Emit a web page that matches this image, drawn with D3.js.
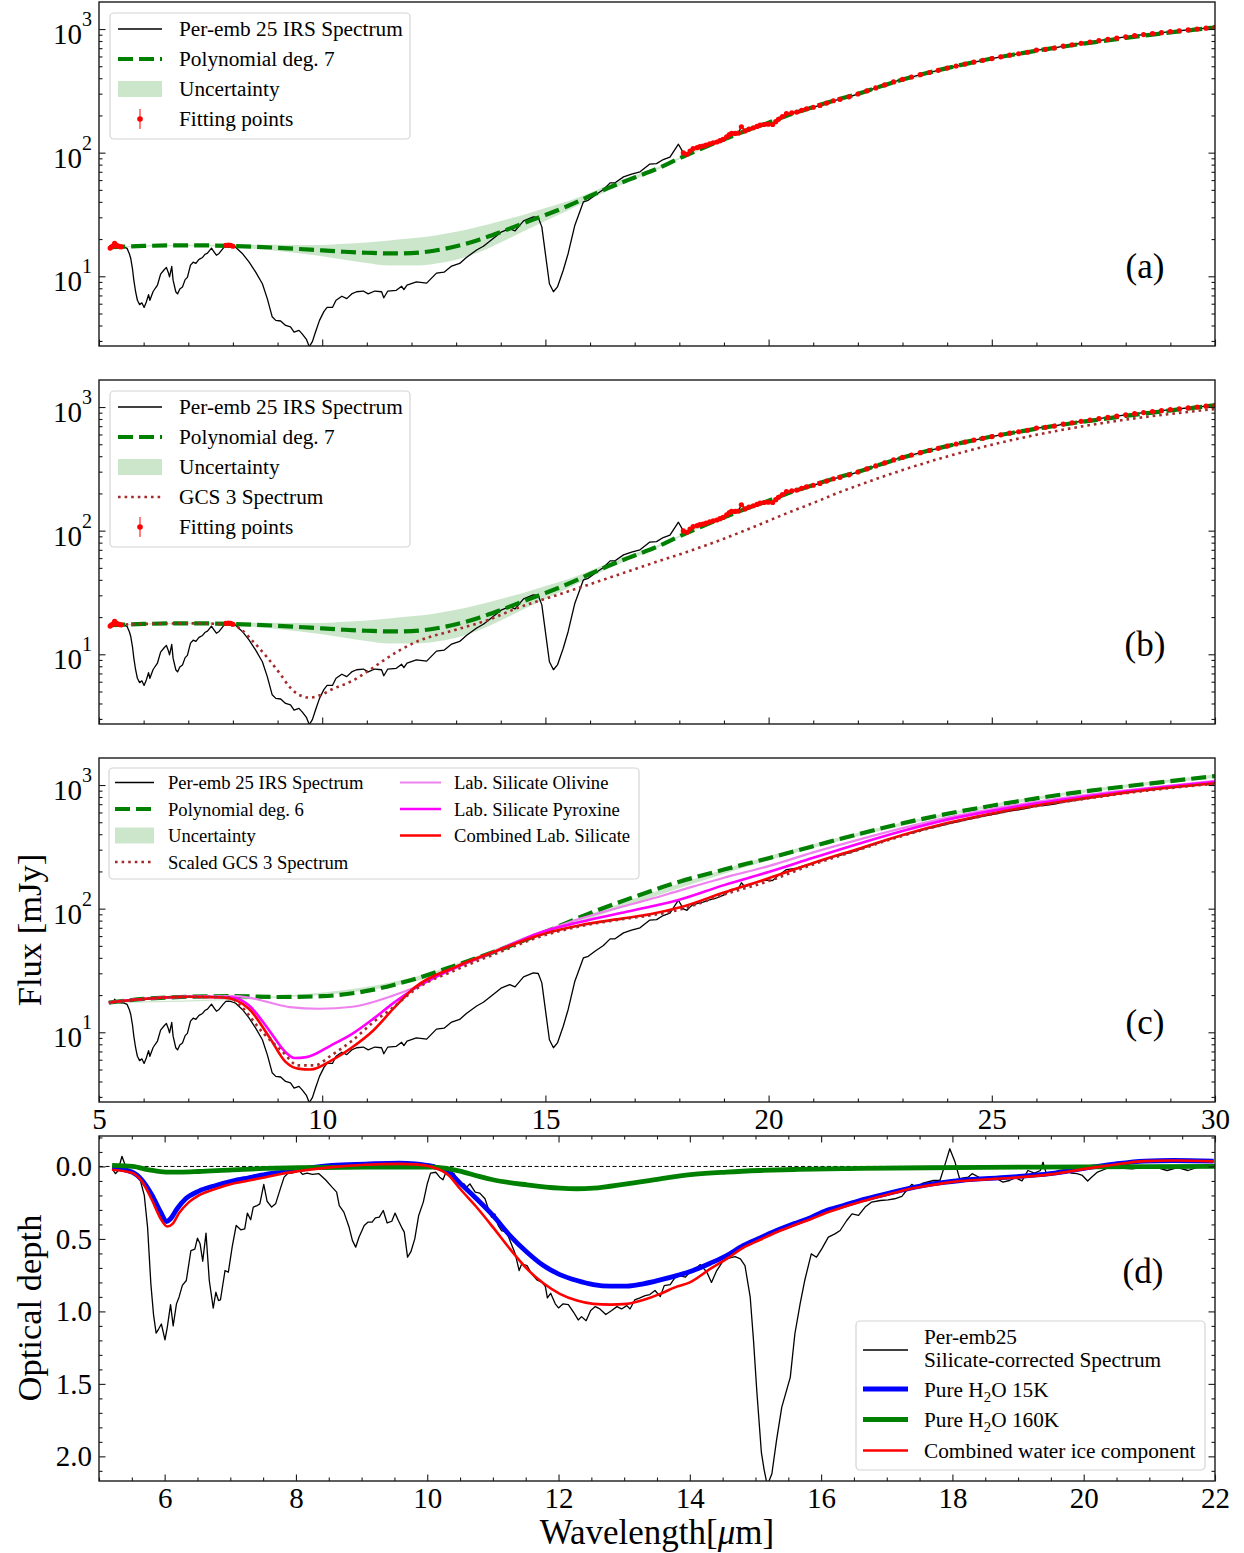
<!DOCTYPE html>
<html>
<head>
<meta charset="utf-8">
<script src="https://cdn.jsdelivr.net/npm/d3@7"></script>
<style>
  body { margin: 0; background: #fff; }
  svg { font-family: "Liberation Serif", "Times New Roman", serif; }
</style>
</head>
<body>
<svg id="fig" width="1244" height="1553"></svg>
<script>
// ---- data (wavelength in micron) ----
const irsSpectrum = [[5.25,16.9],[5.28,17.3],[5.32,17.6],[5.35,18.5],[5.38,17.9],[5.42,17.6],[5.46,17.4],[5.5,17.3],[5.56,17.2],[5.63,16.8],[5.68,15.2],[5.71,14.0],[5.75,11.5],[5.78,9.3],[5.82,7.5],[5.86,6.4],[5.91,5.9],[5.96,6.1],[6.01,5.6],[6.06,6.2],[6.11,7.1],[6.14,6.4],[6.21,7.5],[6.26,8.0],[6.31,8.5],[6.38,10.4],[6.46,11.3],[6.51,11.8],[6.55,10.8],[6.58,9.9],[6.63,12.0],[6.66,9.3],[6.72,7.5],[6.76,7.2],[6.81,7.9],[6.87,8.2],[6.93,9.4],[6.98,9.8],[7.05,12.3],[7.11,13.0],[7.17,12.7],[7.24,13.7],[7.32,14.2],[7.37,15.0],[7.43,15.4],[7.52,16.9],[7.58,15.7],[7.63,14.8],[7.69,15.3],[7.78,16.8],[7.84,17.8],[7.9,17.9],[7.95,17.8],[8.0,17.5],[8.06,17.2],[8.21,15.3],[8.36,13.1],[8.51,10.8],[8.66,8.7],[8.77,6.6],[8.88,4.7],[8.96,4.4],[9.07,4.35],[9.18,4.0],[9.29,3.9],[9.37,3.54],[9.48,3.65],[9.56,3.39],[9.65,3.07],[9.71,2.7],[9.78,2.96],[9.85,3.54],[9.94,4.4],[10.04,5.2],[10.11,5.6],[10.23,5.6],[10.31,6.4],[10.44,6.9],[10.55,6.6],[10.66,7.2],[10.77,7.5],[10.92,7.6],[11.03,7.2],[11.18,7.6],[11.33,7.5],[11.38,6.7],[11.47,7.6],[11.66,7.7],[11.78,8.3],[11.83,7.8],[11.9,8.5],[12.11,9.0],[12.34,8.8],[12.56,10.6],[12.73,10.8],[12.9,12.1],[13.08,12.7],[13.23,14.2],[13.46,16.3],[13.61,17.5],[13.76,19.3],[14.02,22.9],[14.2,24.3],[14.32,23.3],[14.51,28.1],[14.73,30.2],[14.84,29.9],[14.92,25.1],[14.99,16.2],[15.09,8.7],[15.18,7.5],[15.27,8.2],[15.4,11.2],[15.51,15.3],[15.66,25.9],[15.85,39.9],[15.96,41.2],[16.11,45.3],[16.3,50.3],[16.45,57.0],[16.56,57.0],[16.75,63.7],[16.93,67],[17.12,70],[17.34,80.8],[17.49,81.5],[17.64,88],[17.79,92],[17.98,117],[18.09,99.5],[18.17,97],[18.24,103],[18.31,108],[18.4,110],[18.46,112],[18.53,113],[18.6,115],[18.68,118],[18.76,120],[18.84,122],[18.91,125],[18.98,128],[19.06,134],[19.12,140],[19.17,143],[19.25,143],[19.32,144],[19.39,162],[19.47,150],[19.56,155],[19.66,159],[19.74,163],[19.81,167],[19.9,169],[19.99,170],[20.09,169],[20.16,178],[20.22,186],[20.31,196],[20.4,207],[20.52,210],[20.63,213],[20.74,220],[20.85,226],[21.0,233],[21.15,241],[21.3,252],[21.45,263],[21.6,270],[21.8,283],[22.0,298],[22.2,316],[22.4,334],[22.6,353],[22.8,373],[23.0,391],[23.2,409],[23.4,427],[23.6,445],[23.8,463],[24.0,483],[24.2,502],[24.4,521],[24.6,540],[24.8,558],[25.0,577],[25.2,596],[25.4,614],[25.6,631],[25.8,649],[26.0,676],[26.2,685],[26.4,701],[26.6,728],[26.8,746],[27.0,766],[27.2,785],[27.4,805],[27.6,824],[27.8,843],[28.0,865],[28.2,883],[28.4,902],[28.6,918],[28.8,935],[29.0,953],[29.2,968],[29.4,984],[29.6,1000],[29.8,1016],[30.0,1030]];

const fitRanges = [[5.2, 5.55], [7.8, 8.05], [18.05, 30.1]];

const poly7 = [[5.25,17.2],[6,17.6],[7,17.8],[8,17.6],[9,17.0],[10,16.2],[10.5,15.8],[11,15.5],[11.5,15.3],[12,15.4],[12.5,16.1],[13,17.5],[13.5,19.7],[14,22.8],[14.5,26.8],[15,31.3],[15.5,37],[16,44.6],[16.5,53.5],[17,63],[17.5,74],[18,90],[18.5,108],[19,128],[19.5,151],[20,175],[20.5,204],[21,234],[21.5,266],[22,299],[22.5,343],[23,390],[23.5,436],[24,483],[24.5,530],[25,577],[25.5,622],[26,667],[26.5,712],[27,757],[27.5,800],[28,848],[28.5,893],[29,938],[29.5,984],[30,1032]];

const poly7Band = [[5.25,17.0,17.4],[7,17.6,18.0],[8,17.2,18.0],[9,16.0,18.0],[10,14.5,17.9],[10.5,13.6,18.3],[11,12.8,18.8],[11.5,12.2,19.5],[12,12.2,20.3],[12.5,12.6,21.3],[13,13.6,22.9],[13.5,15.6,25.2],[14,18.8,28.0],[14.5,23.0,31.3],[15,28.0,35.6],[15.5,34.0,40.4],[16,41.8,47.5],[16.5,51.0,56.3],[17,61,65.5],[17.5,72.5,76],[18,88.5,91.5],[19,126,130],[20,172,178],[22,294,304],[25,570,584],[30,1020,1044]];

const gcs3 = [[5.3,17.3],[6,17.6],[7,17.8],[7.7,17.6],[8.0,17.2],[8.16,16.1],[8.46,12.6],[8.76,9.5],[9.05,7.0],[9.28,5.4],[9.5,4.66],[9.73,4.46],[9.95,4.66],[10.25,5.27],[10.62,5.97],[11.0,7.2],[11.37,8.9],[11.74,10.8],[12.15,12.8],[12.94,15.6],[13.69,18.8],[14.43,24.1],[15.18,29.5],[15.93,36.2],[16.67,44.5],[17.42,54.9],[18.17,67.3],[18.91,83.7],[19.66,107],[20.4,138],[21.15,176],[21.52,200],[22,232],[23,309],[24,398],[25,495],[26,596],[27,695],[28,791],[29,879],[30,964]];

const poly6 = [[5.22,17.4],[6,18.6],[6.5,19.1],[7,19.4],[8,19.6],[9,19.3],[10,19.6],[11,21.6],[12,26.5],[13,34.9],[14,46.8],[15,64.9],[16,92],[17,125],[18,165],[19,207],[20,256],[21,320],[22,400],[23,490],[24,585],[25,680],[26,780],[27,880],[28,975],[29,1075],[30,1180]];

const poly6Band = [[5.22,17.2,17.6],[9,19.0,19.6],[12,25.4,27.6],[15,62,68],[20,246,266],[25,660,700],[30,1145,1215]];

const olivine = [[5.22,17.4],[6,18.6],[7,19.4],[8,19.6],[8.35,19.1],[8.8,17.5],[9.28,16.0],[9.93,15.5],[10.68,16.1],[11.6,19.9],[12.07,23.0],[13,34],[13.93,46],[14.86,63],[15.78,83],[16.71,103.5],[17.34,119],[18,140],[19,178],[20,221],[21,285],[22,360],[23,448],[24,545],[25,640],[26,730],[27,820],[28,905],[29,990],[30,1080]];

const pyroxene = [[5.22,17.4],[6,18.6],[7,19.4],[7.98,19.1],[8.35,16.6],[8.81,10.4],[9.18,6.9],[9.37,6.2],[9.65,6.3],[10.2,7.85],[10.68,9.75],[11.15,12.9],[11.6,17.3],[12.07,22.6],[13,33.4],[13.93,46],[14.86,63.7],[15.78,78],[16.71,92.5],[17.34,103.5],[18,118],[19,155],[20,198],[21,258],[22,334],[23,425],[24,525],[25,618],[26,710],[27,800],[28,888],[29,975],[30,1060]];

const combinedSil = [[5.22,17.4],[6,18.6],[7,19.4],[7.79,19.1],[8.35,15.6],[8.81,9.2],[9.18,5.76],[9.46,5.08],[9.74,5.0],[10.2,5.9],[10.68,7.6],[11.15,10.4],[11.6,15.6],[12.07,23],[13,34],[13.93,46],[14.86,61],[15.78,73.5],[16.71,83],[17.34,90],[18,102],[19,135],[20,176],[21,234],[22,304],[23,395],[24,492],[25,589],[26,684],[27,774],[28,868],[29,955],[30,1035]];

const gcs3Scaled = [[5.22,17.4],[7,19.4],[7.9,19.2],[8.16,16.5],[8.69,9.75],[9.09,7.1],[9.46,5.4],[9.83,5.4],[10.2,6.5],[10.68,8.6],[11.15,12.1],[11.6,16.0],[12.07,22],[13,32],[13.93,43.8],[14.86,59],[15.78,72],[16.71,82],[17.34,88],[18,98],[19,130],[20,167],[21,228],[22,298],[23,388],[24,485],[25,580],[26,675],[27,765],[28,858],[29,945],[30,1025]];

const tauSpectrum = [[5.2,0.016],[5.25,0.05],[5.29,0.03],[5.35,-0.07],[5.4,-0.007],[5.46,0.04],[5.56,0.05],[5.63,0.097],[5.69,0.2],[5.74,0.42],[5.79,0.81],[5.83,1.02],[5.87,1.15],[5.91,1.12],[5.95,1.087],[6.005,1.197],[6.04,1.11],[6.09,0.953],[6.13,1.10],[6.18,0.948],[6.22,0.90],[6.27,0.82],[6.33,0.787],[6.40,0.58],[6.46,0.57],[6.50,0.495],[6.54,0.534],[6.58,0.654],[6.63,0.46],[6.68,0.787],[6.74,0.978],[6.78,0.868],[6.82,0.925],[6.85,0.921],[6.92,0.718],[6.97,0.73],[7.03,0.552],[7.09,0.407],[7.16,0.437],[7.22,0.43],[7.26,0.322],[7.31,0.368],[7.35,0.28],[7.41,0.27],[7.45,0.258],[7.51,0.124],[7.56,0.24],[7.63,0.28],[7.69,0.258],[7.77,0.143],[7.82,0.074],[7.87,0.05],[7.95,0.044],[8.05,0.028],[8.10,0.055],[8.17,0.046],[8.25,0.055],[8.35,0.05],[8.45,0.092],[8.55,0.143],[8.62,0.177],[8.66,0.27],[8.73,0.315],[8.81,0.42],[8.86,0.51],[8.91,0.557],[8.96,0.488],[9.04,0.407],[9.10,0.384],[9.16,0.384],[9.21,0.355],[9.27,0.35],[9.33,0.304],[9.39,0.39],[9.46,0.378],[9.51,0.322],[9.56,0.373],[9.61,0.42],[9.65,0.453],[9.70,0.626],[9.75,0.59],[9.81,0.5],[9.87,0.338],[9.94,0.246],[10.0,0.12],[10.05,0.046],[10.13,0.04],[10.19,0.074],[10.24,0.092],[10.28,0.046],[10.36,0.04],[10.41,0.05],[10.48,0.115],[10.56,0.12],[10.6,0.143],[10.65,0.12],[10.73,0.177],[10.80,0.184],[10.88,0.223],[10.93,0.292],[10.98,0.35],[11.03,0.327],[11.08,0.407],[11.13,0.442],[11.21,0.453],[11.26,0.511],[11.34,0.603],[11.37,0.66],[11.40,0.718],[11.44,0.672],[11.52,0.684],[11.59,0.741],[11.67,0.783],[11.75,0.80],[11.80,0.829],[11.83,0.907],[11.88,0.875],[11.95,0.948],[12.00,0.976],[12.07,0.948],[12.15,0.953],[12.23,1.006],[12.30,1.059],[12.35,1.036],[12.42,1.064],[12.49,0.994],[12.56,0.967],[12.63,0.983],[12.72,1.022],[12.81,0.994],[12.89,0.967],[12.96,0.983],[13.04,0.96],[13.09,0.983],[13.16,0.921],[13.24,0.907],[13.32,0.891],[13.39,0.884],[13.47,0.856],[13.55,0.898],[13.61,0.822],[13.70,0.815],[13.78,0.764],[13.85,0.753],[13.93,0.764],[14.0,0.73],[14.08,0.707],[14.16,0.677],[14.26,0.73],[14.33,0.80],[14.41,0.718],[14.51,0.649],[14.61,0.631],[14.69,0.622],[14.77,0.638],[14.84,0.684],[14.92,0.902],[14.97,1.20],[15.02,1.547],[15.09,1.973],[15.13,2.088],[15.18,2.2],[15.25,2.12],[15.32,1.892],[15.40,1.662],[15.53,1.455],[15.60,1.156],[15.68,0.948],[15.75,0.787],[15.85,0.603],[15.93,0.626],[16.01,0.569],[16.11,0.488],[16.21,0.465],[16.29,0.442],[16.39,0.373],[16.47,0.327],[16.57,0.338],[16.67,0.28],[16.77,0.246],[16.90,0.235],[17.02,0.23],[17.12,0.223],[17.23,0.207],[17.30,0.166],[17.38,0.124],[17.45,0.143],[17.55,0.115],[17.71,0.097],[17.81,0.097],[17.89,-0.018],[17.96,-0.122],[18.04,-0.03],[18.11,0.085],[18.24,0.074],[18.30,0.05],[18.42,0.078],[18.55,0.085],[18.65,0.078],[18.77,0.108],[18.87,0.097],[18.96,0.078],[19.06,0.10],[19.15,0.028],[19.25,0.046],[19.34,0.028],[19.38,-0.03],[19.43,0.05],[19.52,0.046],[19.62,0.028],[19.71,0.023],[19.81,0.046],[19.90,0.05],[19.98,0.062],[20.06,0.10],[20.12,0.074],[20.21,0.039],[20.34,0.016],[20.40,-0.018],[20.49,0.009],[20.74,0.016],[20.93,0.005],[21.12,0.009],[21.27,0.028],[21.43,0.009],[21.59,0.028],[21.74,0.005],[21.98,-0.007]];

const h2o15K = [[5.2,0.009],[5.51,0.04],[5.66,0.097],[5.81,0.2],[5.94,0.315],[6.03,0.38],[6.09,0.361],[6.19,0.292],[6.32,0.223],[6.52,0.17],[6.78,0.131],[7.03,0.101],[7.28,0.078],[7.54,0.055],[7.79,0.039],[8.05,0.021],[8.55,-0.007],[9.06,-0.016],[9.57,-0.023],[9.82,-0.018],[10.08,0],[10.33,0.04],[10.5,0.115],[10.75,0.223],[11.0,0.338],[11.26,0.477],[11.52,0.592],[11.77,0.684],[12.02,0.746],[12.28,0.787],[12.53,0.815],[12.79,0.826],[13.04,0.826],[13.29,0.81],[13.55,0.783],[13.80,0.753],[14.05,0.718],[14.31,0.668],[14.56,0.615],[14.81,0.546],[15.07,0.493],[15.32,0.442],[15.58,0.396],[15.83,0.355],[16.08,0.304],[16.34,0.27],[16.59,0.235],[16.85,0.205],[17.10,0.177],[17.36,0.15],[17.61,0.127],[17.87,0.11],[18.12,0.097],[18.87,0.074],[19.49,0.05],[20.12,0.005],[20.43,-0.014],[20.93,-0.037],[21.37,-0.041],[21.98,-0.037]];

const h2o160K = [[5.2,-0.007],[5.51,0],[5.76,0.023],[6.02,0.039],[6.27,0.039],[6.52,0.035],[7.03,0.023],[7.54,0.014],[8.05,0.009],[9.06,0.005],[10.08,0.005],[10.33,0.016],[10.5,0.032],[10.79,0.069],[11.0,0.092],[11.52,0.127],[12.02,0.15],[12.28,0.154],[12.53,0.15],[13.04,0.12],[13.55,0.085],[14.05,0.055],[14.56,0.039],[15.07,0.028],[15.58,0.021],[16.59,0.014],[17.61,0.009],[18.5,0.006],[20,0.003],[22,0.0]];

const h2oCombined = [[5.2,0.023],[5.51,0.046],[5.66,0.108],[5.81,0.235],[5.94,0.361],[6.04,0.414],[6.12,0.396],[6.22,0.322],[6.37,0.246],[6.52,0.2],[6.78,0.154],[7.03,0.12],[7.28,0.097],[7.54,0.074],[7.79,0.05],[8.05,0.032],[8.55,0.005],[9.06,-0.012],[9.57,-0.018],[9.82,-0.014],[10.08,0.005],[10.33,0.062],[10.5,0.154],[10.75,0.28],[11.0,0.419],[11.26,0.569],[11.52,0.707],[11.77,0.806],[12.02,0.879],[12.28,0.925],[12.53,0.948],[12.79,0.953],[13.04,0.948],[13.29,0.921],[13.55,0.879],[13.80,0.829],[14.0,0.80],[14.31,0.707],[14.56,0.638],[14.81,0.562],[15.07,0.506],[15.32,0.454],[15.58,0.407],[15.83,0.366],[16.08,0.32],[16.34,0.28],[16.59,0.246],[16.85,0.212],[17.10,0.184],[17.36,0.154],[17.61,0.134],[17.87,0.115],[18.12,0.101],[18.87,0.08],[19.49,0.055],[20.12,0.01],[20.43,-0.01],[20.93,-0.037],[21.37,-0.041],[21.98,-0.035]];

const fluxMajor = [10, 100, 1000];
const fluxMinor = [3,4,5,6,7,8,9,20,30,40,50,60,70,80,90,200,300,400,500,600,700,800,900];
const waveMajor = [5, 10, 15, 20, 25, 30];
const tauXMajor = [6, 8, 10, 12, 14, 16, 18, 20, 22];
const tauYMajor = [0, 0.5, 1.0, 1.5, 2.0];
const panelTags = ['(a)', '(b)', '(c)', '(d)'];

// ---- layout ----
const left = 99, right = 1215;
const panels = [{top: 2, bottom: 346}, {top: 380, bottom: 724}, {top: 758, bottom: 1102}, {top: 1136, bottom: 1481}];
const ink = '#1a1a1a';
const green = '#008000', bandFill = 'rgba(0,128,0,0.2)';
const tickFont = 29;

const svg = d3.select('#fig');
const x = d3.scaleLinear().domain([5, 30]).range([left, right]);
const xd = d3.scaleLinear().domain([5, 22]).range([left, right]);

function clipFor(i, p) {
  svg.append('clipPath').attr('id', 'clip' + i).append('rect')
    .attr('x', left).attr('y', p.top).attr('width', right - left).attr('height', p.bottom - p.top);
  return svg.append('g').attr('clip-path', `url(#clip${i})`);
}

function styleAxis(g) {
  g.select('.domain').remove();
  g.selectAll('line').attr('stroke', ink).attr('stroke-width', 1.1);
  g.selectAll('text').attr('font-family', '"Liberation Serif", serif').attr('font-size', tickFont).attr('fill', '#000');
  return g;
}

function frame(p) {
  svg.append('rect').attr('x', left).attr('y', p.top).attr('width', right - left).attr('height', p.bottom - p.top)
    .attr('fill', 'none').attr('stroke', ink).attr('stroke-width', 1.4);
}

function addAxes(p, xs, ys, xMaj, xMin, yMaj, yMin, xLabels, topTicks, yFormat) {
  styleAxis(svg.append('g').attr('transform', `translate(0,${p.bottom})`)
    .call(d3.axisBottom(xs).tickValues(xMaj).tickSize(-6.5).tickPadding(6).tickFormat(xLabels ? d3.format('d') : '')));
  styleAxis(svg.append('g').attr('transform', `translate(0,${p.bottom})`)
    .call(d3.axisBottom(xs).tickValues(xMin).tickSize(-3.5).tickFormat('')));
  if (topTicks) {
    styleAxis(svg.append('g').attr('transform', `translate(0,${p.top})`)
      .call(d3.axisTop(xs).tickValues(xMaj).tickSize(-6.5).tickFormat('')));
    styleAxis(svg.append('g').attr('transform', `translate(0,${p.top})`)
      .call(d3.axisTop(xs).tickValues(xMin).tickSize(-3.5).tickFormat('')));
  }
  [[d3.axisLeft, left], [d3.axisRight, right]].forEach(([ax, pos]) => {
    styleAxis(svg.append('g').attr('transform', `translate(${pos},0)`)
      .call(ax(ys).tickValues(yMaj).tickSize(-6.5).tickPadding(7)
        .tickFormat(pos === left && yFormat ? yFormat : '')));
    styleAxis(svg.append('g').attr('transform', `translate(${pos},0)`)
      .call(ax(ys).tickValues(yMin).tickSize(-3.5).tickFormat('')));
  });
}

const line = (xs, ys, curve) => d3.line().x(d => xs(d[0])).y(d => ys(d[1])).curve(curve || d3.curveLinear);

// legend helper
function legend(box, rows, fs) {
  const g = svg.append('g');
  g.append('rect').attr('x', box.x).attr('y', box.y).attr('width', box.w).attr('height', box.h)
    .attr('rx', 4).attr('fill', 'white').attr('fill-opacity', 0.85).attr('stroke', '#d4d4d4').attr('stroke-width', 1.2);
  rows.forEach(r => {
    const s = r.style;
    if (s.type === 'line') {
      g.append('line').attr('x1', r.h0).attr('x2', r.h1).attr('y1', r.y).attr('y2', r.y)
        .attr('stroke', s.color).attr('stroke-width', s.width).attr('stroke-dasharray', s.dash || null);
    } else if (s.type === 'band') {
      g.append('rect').attr('x', r.h0).attr('y', r.y - 8).attr('width', r.h1 - r.h0).attr('height', 16).attr('fill', bandFill);
    } else if (s.type === 'err') {
      const cx = (r.h0 + r.h1) / 2;
      g.append('line').attr('x1', cx).attr('x2', cx).attr('y1', r.y - 10).attr('y2', r.y + 10).attr('stroke', 'red').attr('stroke-width', 1);
      g.append('circle').attr('cx', cx).attr('cy', r.y).attr('r', 2.8).attr('fill', 'red');
    }
    const lines = Array.isArray(r.label[0]) ? r.label : [r.label];
    const lh = r.lh || 0;
    lines.forEach((segs, k) => {
      const t = g.append('text').attr('x', r.tx).attr('y', r.ty + k * lh).attr('font-size', fs);
      segs.forEach(sg => {
        if (sg.sub) t.append('tspan').attr('font-size', fs * 0.7).attr('dy', 5).text(sg.t);
        else t.append('tspan').attr('dy', sg.after ? -5 : null).text(sg.t);
      });
    });
  });
}

const styles = {
  spec: {type: 'line', color: '#000', width: 1.3},
  poly: {type: 'line', color: green, width: 4.2, dash: '15,6'},
  band: {type: 'band'},
  gcs: {type: 'line', color: '#a52a2a', width: 2.6, dash: '2.6,4'},
  fit: {type: 'err'},
  oliv: {type: 'line', color: '#ee82ee', width: 2.2},
  pyro: {type: 'line', color: '#ff00ff', width: 2.6},
  comb: {type: 'line', color: '#ff0000', width: 2.6},
  h15: {type: 'line', color: '#0000ff', width: 4.8},
  h160: {type: 'line', color: green, width: 4.8},
  hcomb: {type: 'line', color: '#ff0000', width: 2.6}
};

// ---- panels a, b, c : flux ----
const fitPoints = irsSpectrum.filter(d => fitRanges.some(r => d[0] >= r[0] && d[0] <= r[1]));
const smooth = d3.curveMonotoneX;

panels.slice(0, 3).forEach((p, i) => {
  const y = d3.scaleLog().domain([2.73, 1654]).range([p.bottom, p.top]);
  const g = clipFor(i, p);
  const band = i < 2 ? poly7Band : poly6Band;
  g.append('path').datum(band).attr('fill', bandFill)
    .attr('d', d3.area().x(d => x(d[0])).y0(d => y(d[1])).y1(d => y(d[2])).curve(smooth));
  g.append('path').datum(irsSpectrum).attr('fill', 'none').attr('stroke', '#000').attr('stroke-width', 1.3)
    .attr('stroke-linejoin', 'round').attr('d', line(x, y));
  g.append('path').datum(i < 2 ? poly7 : poly6).attr('fill', 'none').attr('stroke', green).attr('stroke-width', 4.2)
    .attr('stroke-dasharray', '15,6').attr('d', line(x, y, smooth));
  if (i === 1) {
    g.append('path').datum(gcs3).attr('fill', 'none').attr('stroke', '#a52a2a').attr('stroke-width', 2.6)
      .attr('stroke-dasharray', '2.6,4').attr('d', line(x, y, smooth));
  }
  if (i < 2) {
    g.selectAll('circle.fit').data(fitPoints).enter().append('circle')
      .attr('cx', d => x(d[0])).attr('cy', d => y(d[1])).attr('r', 2.6).attr('fill', 'red');
  } else {
    [[olivine, styles.oliv], [pyroxene, styles.pyro], [combinedSil, styles.comb]].forEach(([data, s]) => {
      g.append('path').datum(data).attr('fill', 'none').attr('stroke', s.color).attr('stroke-width', s.width)
        .attr('d', line(x, y, smooth));
    });
    g.append('path').datum(gcs3Scaled).attr('fill', 'none').attr('stroke', '#a52a2a').attr('stroke-width', 2.6)
      .attr('stroke-dasharray', '2.6,4').attr('d', line(x, y, smooth));
  }
  addAxes(p, x, y, waveMajor, d3.range(5, 31).filter(v => v % 5), fluxMajor, fluxMinor, i === 2, false, null);
  fluxMajor.forEach(v => {
    const t = svg.append('text').attr('x', 92).attr('y', y(v) + 15).attr('text-anchor', 'end').attr('font-size', tickFont);
    t.append('tspan').text('10');
    t.append('tspan').attr('font-size', 20).attr('dy', -18).text(String(Math.round(Math.log10(v))));
  });
  frame(p);
  svg.append('text').attr('x', 1145).attr('y', p.top + 276).attr('text-anchor', 'middle')
    .attr('font-size', 35).text(panelTags[i]);
});

// legends a, b
[[panels[0], false], [panels[1], true]].forEach(([p, withGcs]) => {
  const items = [['Per-emb 25 IRS Spectrum', styles.spec], ['Polynomial deg. 7', styles.poly], ['Uncertainty', styles.band]];
  if (withGcs) items.push(['GCS 3 Spectrum', styles.gcs]);
  items.push(['Fitting points', styles.fit]);
  const y0 = p.top + 27;
  legend({x: 110, y: p.top + 11, w: 300, h: items.length * 30 + 6},
    items.map((it, k) => ({label: [{t: it[0]}], style: it[1], h0: 118, h1: 162, y: y0 + k * 30, tx: 179, ty: y0 + k * 30 + 7})), 21.3);
});

// legend c
{
  const p = panels[2];
  const col1 = [['Per-emb 25 IRS Spectrum', styles.spec], ['Polynomial deg. 6', styles.poly], ['Uncertainty', styles.band], ['Scaled GCS 3 Spectrum', styles.gcs]];
  const col2 = [['Lab. Silicate Olivine', styles.oliv], ['Lab. Silicate Pyroxine', styles.pyro], ['Combined Lab. Silicate', styles.comb]];
  const y0 = p.top + 24.5, dy = 26.5;
  const rows = col1.map((it, k) => ({label: [{t: it[0]}], style: it[1], h0: 115, h1: 154, y: y0 + k * dy, tx: 168, ty: y0 + k * dy + 6.5}))
    .concat(col2.map((it, k) => ({label: [{t: it[0]}], style: it[1], h0: 400, h1: 441, y: y0 + k * dy, tx: 454, ty: y0 + k * dy + 6.5})));
  legend({x: 109, y: p.top + 10, w: 530, h: 111}, rows, 18.6);
}

// ---- panel d : optical depth ----
{
  const p = panels[3];
  const y = d3.scaleLinear().domain([-0.21, 2.17]).range([p.top, p.bottom]);
  const g = clipFor(3, p);
  g.append('path').datum([[5, 0], [22, 0]]).attr('stroke', '#000').attr('stroke-width', 1)
    .attr('stroke-dasharray', '4,2.5').attr('d', line(xd, y));
  g.append('path').datum(tauSpectrum).attr('fill', 'none').attr('stroke', '#000').attr('stroke-width', 1.3)
    .attr('stroke-linejoin', 'round').attr('d', line(xd, y));
  [[h2o15K, styles.h15], [h2o160K, styles.h160], [h2oCombined, styles.hcomb]].forEach(([data, s]) => {
    g.append('path').datum(data).attr('fill', 'none').attr('stroke', s.color).attr('stroke-width', s.width)
      .attr('d', line(xd, y, smooth));
  });
  addAxes(p, xd, y, tauXMajor, d3.range(5, 22.01, 0.5).filter(v => v % 2 !== 0), tauYMajor,
    d3.range(-0.2, 2.15, 0.1).map(v => Math.round(v * 10) / 10).filter(v => Math.round(v * 10) % 5 !== 0),
    true, true, d3.format('.1f'));
  frame(p);
  svg.append('text').attr('x', 1143).attr('y', 1283).attr('text-anchor', 'middle').attr('font-size', 35).text(panelTags[3]);

  const rows = [
    {label: [[{t: 'Per-emb25'}], [{t: 'Silicate-corrected Spectrum'}]], style: styles.spec, y: 1350, ty: 1344, lh: 22.7},
    {label: [{t: 'Pure H'}, {t: '2', sub: true}, {t: 'O 15K', after: true}], style: styles.h15, y: 1389, ty: 1397},
    {label: [{t: 'Pure H'}, {t: '2', sub: true}, {t: 'O 160K', after: true}], style: styles.h160, y: 1419.5, ty: 1427},
    {label: [{t: 'Combined water ice component'}], style: styles.hcomb, y: 1450.5, ty: 1457.5}
  ].map(r => Object.assign(r, {h0: 863, h1: 908, tx: 924}));
  legend({x: 856, y: 1321, w: 349, h: 149}, rows, 21.3);
}

// axis titles
svg.append('text').attr('transform', 'translate(41,930) rotate(-90)').attr('text-anchor', 'middle')
  .attr('font-size', 34.5).text('Flux [mJy]');
svg.append('text').attr('transform', 'translate(41,1308) rotate(-90)').attr('text-anchor', 'middle')
  .attr('font-size', 34.5).text('Optical depth');
const wl = svg.append('text').attr('x', 657).attr('y', 1544).attr('text-anchor', 'middle').attr('font-size', 35);
wl.append('tspan').text('Wavelength[');
wl.append('tspan').attr('font-style', 'italic').text('\u03bc');
wl.append('tspan').text('m]');
</script>
</body>
</html>
